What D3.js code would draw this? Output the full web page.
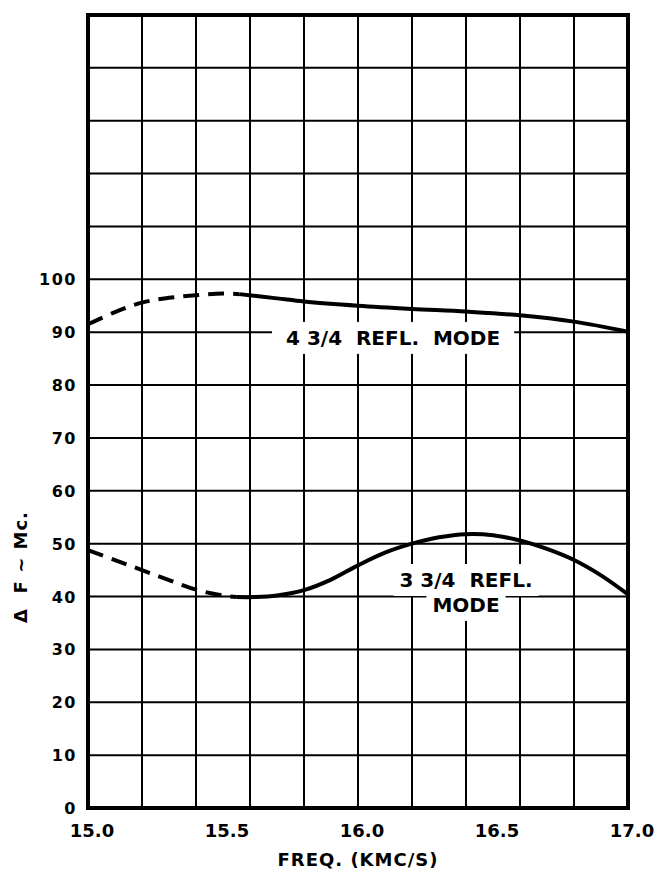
<!DOCTYPE html>
<html>
<head>
<meta charset="utf-8">
<script src="https://d3js.org/d3.v7.min.js"></script>
<style>
    body { margin: 0; background: #fff; }
    text { font-family: "DejaVu Sans", sans-serif; font-weight: bold; fill: #000; }
    .tick-label { font-size: 16px; letter-spacing: 1.5px; }
    .xtick-label { font-size: 18px; }
    .title { font-size: 18px; letter-spacing: 1px; }
    .note { font-size: 20px; white-space: pre; }
</style>
</head>
<body>
<script>
// chart values
var yTicks = [0, 10, 20, 30, 40, 50, 60, 70, 80, 90, 100];
var xTicks = [15.0, 15.5, 16.0, 16.5, 17.0];
var xTickLabels = ["15.0", "15.5", "16.0", "16.5", "17.0"];

// 4 3/4 reflector mode
var upperDashed = [[15.0, 91.5], [15.1, 93.8], [15.2, 95.6], [15.3, 96.5], [15.4, 97.0], [15.5, 97.3], [15.56, 97.2]];
var upperSolid = [[15.56, 97.2], [15.7, 96.4], [15.8, 95.8], [16.0, 95.0], [16.2, 94.4], [16.4, 93.9],
                  [16.6, 93.2], [16.8, 92.0], [17.0, 90.1]];

// 3 3/4 reflector mode
var lowerDashed = [[15.0, 48.8], [15.1, 46.9], [15.2, 45.0], [15.3, 43.1], [15.4, 41.3], [15.5, 40.2], [15.55, 39.9]];
var lowerSolid = [[15.55, 39.9], [15.62, 39.9], [15.7, 40.2], [15.8, 41.2], [15.9, 43.2], [16.0, 45.9], [16.1, 48.3],
                  [16.2, 50.0], [16.3, 51.2], [16.4, 51.8], [16.5, 51.6], [16.6, 50.6], [16.7, 49.0],
                  [16.8, 46.9], [16.9, 44.0], [17.0, 40.4]];

var width = 654, height = 872;
var margin = {top: 15, right: 26, bottom: 64, left: 88};

var svg = d3.select("body").append("svg")
    .attr("width", width)
    .attr("height", height);

var x = d3.scaleLinear().domain([15, 17]).range([margin.left, width - margin.right]);
var y = d3.scaleLinear().domain([0, 150]).range([height - margin.bottom, margin.top]);

// grid: every 0.2 across, every 10 up
var grid = svg.append("g");
grid.selectAll("line.v")
    .data(d3.range(0, 11).map(function(i) { return 15 + i * 0.2; }))
    .enter().append("line")
    .attr("x1", function(d) { return x(d); })
    .attr("x2", function(d) { return x(d); })
    .attr("y1", y(0))
    .attr("y2", y(150))
    .style("stroke", "#000")
    .style("stroke-width", 2);
grid.selectAll("line.h")
    .data(d3.range(0, 160, 10))
    .enter().append("line")
    .attr("x1", x(15))
    .attr("x2", x(17))
    .attr("y1", function(d) { return y(d); })
    .attr("y2", function(d) { return y(d); })
    .style("stroke", "#000")
    .style("stroke-width", 2);

// annotation labels sit on white boxes that break the grid
function note(lines, cx, cy, padX, padY) {
    var g = svg.append("g");
    var boxes = g.append("g");
    var t = g.selectAll("text")
        .data(lines)
        .enter().append("text")
        .attr("class", "note")
        .attr("text-anchor", "middle")
        .attr("x", cx)
        .attr("y", function(d, i) { return cy + i * 25; })
        .text(function(d) { return d; });
    t.each(function() {
        var b = this.getBBox();
        boxes.append("rect")
            .attr("x", b.x - padX)
            .attr("y", b.y - padY)
            .attr("width", b.width + 2 * padX)
            .attr("height", b.height + 2 * padY)
            .style("fill", "#fff");
    });
}
note(["4 3/4  REFL.  MODE"], x(16.13), y(87.6), 14, 4);
note(["3 3/4  REFL.", "MODE"], x(16.4), y(41.8), 6, 4);

// curves
var line = d3.line()
    .x(function(d) { return x(d[0]); })
    .y(function(d) { return y(d[1]); })
    .curve(d3.curveCatmullRom.alpha(0.5));

[upperDashed, lowerDashed].forEach(function(s) {
    svg.append("path")
        .attr("d", line(s))
        .style("fill", "none")
        .style("stroke", "#000")
        .style("stroke-width", 4)
        .style("stroke-dasharray", "16,9");
});
[upperSolid, lowerSolid].forEach(function(s) {
    svg.append("path")
        .attr("d", line(s))
        .style("fill", "none")
        .style("stroke", "#000")
        .style("stroke-width", 4);
});

// frame
svg.append("rect")
    .attr("x", x(15))
    .attr("y", y(150))
    .attr("width", x(17) - x(15))
    .attr("height", y(0) - y(150))
    .style("fill", "none")
    .style("stroke", "#000")
    .style("stroke-width", 4);

// axes labels
svg.selectAll("text.ytick")
    .data(yTicks)
    .enter().append("text")
    .attr("class", "tick-label")
    .attr("text-anchor", "end")
    .attr("x", x(15) - 11)
    .attr("y", function(d) { return y(d) + 6; })
    .text(function(d) { return d; });

svg.selectAll("text.xtick")
    .data(xTicks)
    .enter().append("text")
    .attr("class", "xtick-label")
    .attr("text-anchor", "middle")
    .attr("x", function(d) { return x(d) + 4; })
    .attr("y", y(0) + 29)
    .text(function(d, i) { return xTickLabels[i]; });

svg.append("text")
    .attr("class", "title")
    .attr("text-anchor", "middle")
    .attr("x", x(16))
    .attr("y", y(0) + 58)
    .text("FREQ. (KMC/S)");

svg.append("text")
    .attr("class", "title")
    .attr("text-anchor", "middle")
    .attr("transform", "translate(27," + 567 + ") rotate(-90)")
    .style("white-space", "pre")
    .text("\u0394  F ~ Mc.");
</script>
</body>
</html>
